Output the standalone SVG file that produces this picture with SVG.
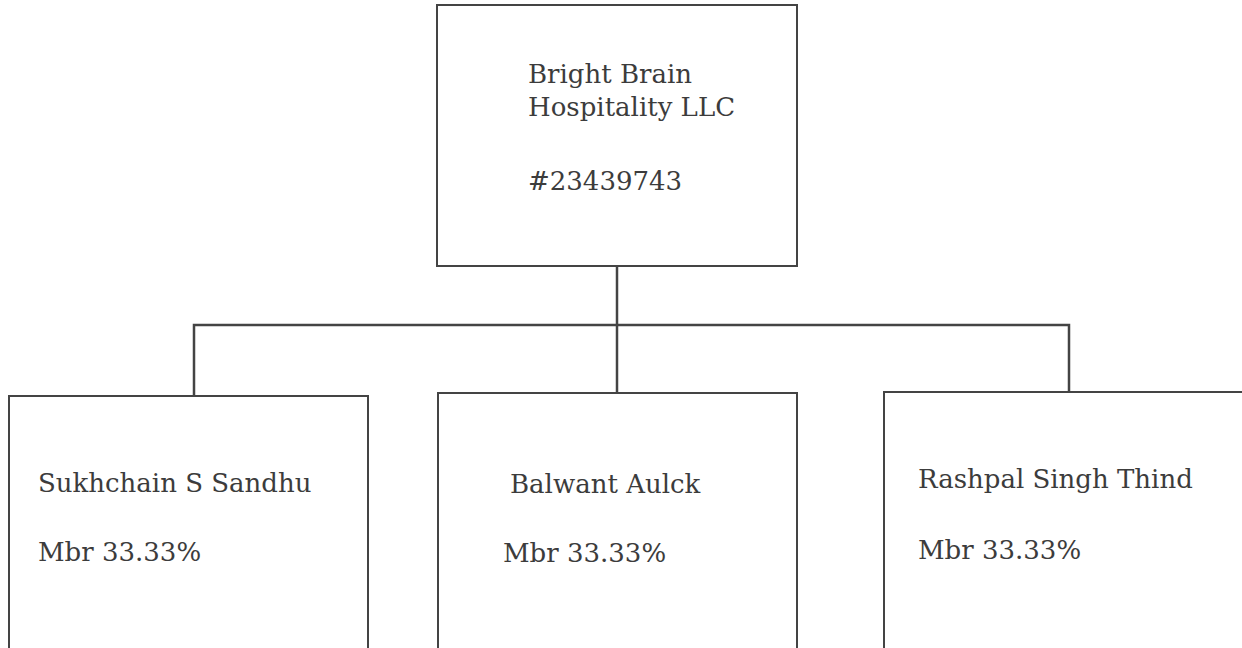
<svg xmlns="http://www.w3.org/2000/svg" width="1242" height="648" viewBox="0 0 1242 648">
<style>
.box{fill:#fff;stroke:#444;stroke-width:2}
.con{fill:none;stroke:#444;stroke-width:2.5}
text{font-family:"DejaVu Serif","Liberation Serif",serif;font-size:26px;fill:#3c3c3c}
</style>
<rect width="1242" height="648" fill="#fff"/>
<g id="connectors">
<path class="con" d="M617,266 V393"/>
<path class="con" d="M194,396 V325 H1069 V392"/>
</g>
<g id="n-top">
<rect class="box" x="437" y="5" width="360" height="261"/>
<text x="528" y="83">Bright Brain</text>
<text x="528" y="116">Hospitality LLC</text>
<text x="528" y="190">#23439743</text>
</g>
<g id="n-sandhu">
<rect class="box" x="9" y="396" width="359" height="254"/>
<text x="38" y="492">Sukhchain S Sandhu</text>
<text x="38" y="561">Mbr 33.33%</text>
</g>
<g id="n-aulck">
<rect class="box" x="438" y="393" width="359" height="257"/>
<text x="510" y="493">Balwant Aulck</text>
<text x="503" y="562">Mbr 33.33%</text>
</g>
<g id="n-thind">
<rect class="box" x="884" y="392" width="370" height="258"/>
<text x="918" y="488">Rashpal Singh Thind</text>
<text x="918" y="559">Mbr 33.33%</text>
</g>
</svg>
